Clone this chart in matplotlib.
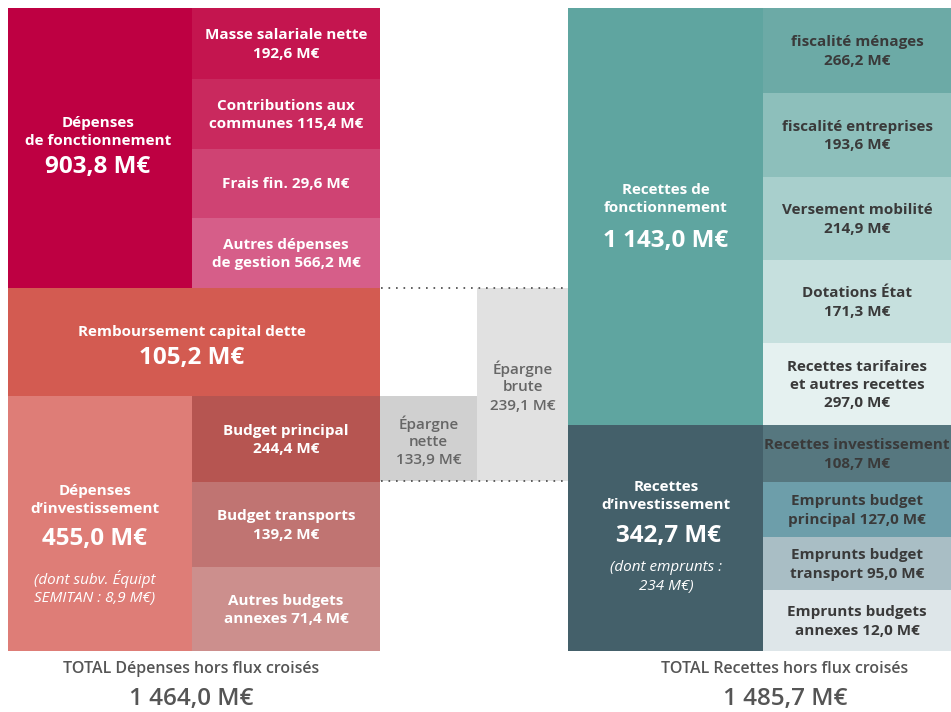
import matplotlib
matplotlib.use("Agg")
import matplotlib.pyplot as plt

plt.rcParams['font.family'] = ['Open Sans', 'DejaVu Sans']

# ---------------- DATA ----------------
dep_fonct_label = "Dépenses\nde fonctionnement"
dep_fonct_value = 903.8
dep_fonct_sub_labels = ["Masse salariale nette\n{}", "Contributions aux\ncommunes {}",
                        "Frais fin. {}", "Autres dépenses\nde gestion {}"]
dep_fonct_sub_values = [192.6, 115.4, 29.6, 566.2]

remb_label = "Remboursement capital dette"
remb_value = 105.2

dep_inv_label = "Dépenses\nd’investissement"
dep_inv_value = 455.0
dep_inv_note = "(dont subv. Équipt\nSEMITAN : 8,9 M€)"
dep_inv_sub_labels = ["Budget principal\n{}", "Budget transports\n{}", "Autres budgets\nannexes {}"]
dep_inv_sub_values = [244.4, 139.2, 71.4]

epargne_labels = ["Épargne\nnette", "Épargne\nbrute"]
epargne_values = [133.9, 239.1]

rec_fonct_label = "Recettes de\nfonctionnement"
rec_fonct_value = 1143.0
rec_fonct_sub_labels = ["fiscalité ménages\n{}", "fiscalité entreprises\n{}", "Versement mobilité\n{}",
                        "Dotations État\n{}", "Recettes tarifaires\net autres recettes\n{}"]
rec_fonct_sub_values = [266.2, 193.6, 214.9, 171.3, 297.0]

rec_inv_label = "Recettes\nd’investissement"
rec_inv_value = 342.7
rec_inv_note = "(dont emprunts :\n234 M€)"
rec_inv_sub_labels = ["Recettes investissement\n{}", "Emprunts budget\nprincipal {}",
                      "Emprunts budget\ntransport {}", "Emprunts budgets\nannexes {}"]
rec_inv_sub_values = [108.7, 127.0, 95.0, 12.0]

total_dep_label = "TOTAL Dépenses hors flux croisés"
total_dep_value = 1464.0
total_rec_label = "TOTAL Recettes hors flux croisés"
total_rec_value = 1485.7


def fmt(v):
    s = f"{v:,.1f}".replace(",", " ").replace(".", ",")
    return s + " M€"


# ---------------- LAYOUT (pixel grid) ----------------
W, H = 951, 712
L0, L1, L2 = 8, 192, 380          # left columns
E1, E2 = 477, 568                 # epargne columns
R1, R2 = 763, 951                 # right columns
dep_fonct_edges = [8, 79, 149, 218, 288]
remb_edges = [288, 396]
dep_inv_edges = [396, 482, 567, 651]
rec_fonct_edges = [8, 93, 177, 260, 343, 425]
rec_inv_edges = [425, 482, 537, 590, 651]

# styles
c_dep_fonct = "#BE0042"
c_dep_fonct_sub = ["#C4154F", "#C9295E", "#CF4373", "#D65E89"]
c_remb = "#D35B51"
c_dep_inv = "#DE7D77"
c_dep_inv_sub = ["#B65551", "#C07472", "#CC8F8D"]
c_ep = ["#D0D0D0", "#E1E1E1"]
c_rec_fonct = "#5FA5A0"
c_rec_fonct_sub = ["#6CAAA6", "#8DBFBB", "#A8CFCC", "#C6E0DE", "#E5F1F0"]
c_rec_inv = "#44606A"
c_rec_inv_sub = ["#56777F", "#6D9EAA", "#A9BEC5", "#DEE6E9"]
dark_txt = "#3A3A3A"
FS_SUB = 11
FS_BIG = 17.5
FS_NOTE = 11
LS_SUB = 1.4
LS_MAIN = 1.3

fig = plt.figure(figsize=(W / 100, H / 100), dpi=100)
ax = fig.add_axes([0, 0, 1, 1])
ax.set_xlim(0, W)
ax.set_ylim(H, 0)
ax.axis("off")


def box(x0, x1, y0, y1, color):
    ax.bar(x0, y1 - y0, bottom=y0, width=x1 - x0, align="edge", color=color,
           linewidth=0)


def sub_column(x0, x1, edges, labels, values, colors, txtcolors):
    for i, (lab, v, c, tc) in enumerate(zip(labels, values, colors, txtcolors)):
        y0, y1 = edges[i], edges[i + 1]
        box(x0, x1, y0, y1, c)
        ax.text((x0 + x1) / 2, (y0 + y1) / 2 + 1, lab.format(fmt(v)), ha="center", va="center",
                color=tc, fontsize=FS_SUB, fontweight="bold", linespacing=LS_SUB)


# Left side
box(L0, L1, dep_fonct_edges[0], dep_fonct_edges[-1], c_dep_fonct)
sub_column(L1, L2, dep_fonct_edges, dep_fonct_sub_labels, dep_fonct_sub_values,
           c_dep_fonct_sub, ["white"] * 4)
ax.text(98, 132, dep_fonct_label, ha="center", va="center", color="white",
        fontsize=FS_SUB, fontweight="bold", linespacing=LS_MAIN)
ax.text(98, 167, fmt(dep_fonct_value), ha="center", va="center", color="white",
        fontsize=FS_BIG, fontweight="bold")

box(L0, L2, remb_edges[0], remb_edges[1], c_remb)
ax.text(192, 332, remb_label, ha="center", va="center", color="white",
        fontsize=FS_SUB, fontweight="bold")
ax.text(192, 358, fmt(remb_value), ha="center", va="center", color="white",
        fontsize=FS_BIG, fontweight="bold")

box(L0, L1, dep_inv_edges[0], dep_inv_edges[-1], c_dep_inv)
sub_column(L1, L2, dep_inv_edges, dep_inv_sub_labels, dep_inv_sub_values,
           c_dep_inv_sub, ["white"] * 3)
ax.text(95, 500, dep_inv_label, ha="center", va="center", color="white",
        fontsize=FS_SUB, fontweight="bold", linespacing=LS_MAIN)
ax.text(95, 539, fmt(dep_inv_value), ha="center", va="center", color="white",
        fontsize=FS_BIG, fontweight="bold")
ax.text(95, 588, dep_inv_note, ha="center", va="center", color="white",
        fontsize=FS_NOTE, fontstyle="italic", linespacing=1.35)

# Epargne
ep_col = "#666666"
box(L2, E1, 396, 481, c_ep[0])
box(E1, E2, 288, 481, c_ep[1])
ax.text((L2 + E1) / 2, 432, epargne_labels[0], ha="center", va="center", color=ep_col,
        fontsize=FS_SUB, fontweight="semibold", linespacing=1.3)
ax.text((L2 + E1) / 2, 460, fmt(epargne_values[0]), ha="center", va="center", color=ep_col,
        fontsize=FS_SUB, fontweight="semibold")
ax.text((E1 + E2) / 2, 377, epargne_labels[1], ha="center", va="center", color=ep_col,
        fontsize=FS_SUB, fontweight="semibold", linespacing=1.3)
ax.text((E1 + E2) / 2, 406, fmt(epargne_values[1]), ha="center", va="center", color=ep_col,
        fontsize=FS_SUB, fontweight="semibold")
ax.plot([381, E2], [288, 288], color="#444444", linestyle=(0, (1, 3.5)), linewidth=1.2)
ax.plot([381, E2], [481, 481], color="#444444", linestyle=(0, (1, 3.5)), linewidth=1.2)

# Right side
box(E2, R1, rec_fonct_edges[0], rec_fonct_edges[-1], c_rec_fonct)
sub_column(R1, R2, rec_fonct_edges, rec_fonct_sub_labels, rec_fonct_sub_values,
           c_rec_fonct_sub, [dark_txt] * 5)
ax.text(666, 199, rec_fonct_label, ha="center", va="center", color="white",
        fontsize=FS_SUB, fontweight="bold", linespacing=LS_MAIN)
ax.text(666, 241, fmt(rec_fonct_value), ha="center", va="center", color="white",
        fontsize=FS_BIG, fontweight="bold")

box(E2, R1, rec_inv_edges[0], rec_inv_edges[-1], c_rec_inv)
sub_column(R1, R2, rec_inv_edges, rec_inv_sub_labels, rec_inv_sub_values,
           c_rec_inv_sub, [dark_txt] * 4)
ax.text(666, 496, rec_inv_label, ha="center", va="center", color="white",
        fontsize=FS_SUB, fontweight="bold", linespacing=LS_MAIN)
ax.text(668, 536, fmt(rec_inv_value), ha="center", va="center", color="white",
        fontsize=FS_BIG, fontweight="bold")
ax.text(666, 577, rec_inv_note, ha="center", va="center", color="white",
        fontsize=FS_NOTE, fontstyle="italic", linespacing=1.3)

# Totals
tot_col = "#555555"
ax.text(191, 669, total_dep_label, ha="center", va="center", color=tot_col, fontsize=11.5,
        fontweight="semibold")
ax.text(191, 699, fmt(total_dep_value), ha="center", va="center", color=tot_col, fontsize=17.5,
        fontweight="semibold")
ax.text(785, 669, total_rec_label, ha="center", va="center", color=tot_col, fontsize=11.5,
        fontweight="semibold")
ax.text(785, 699, fmt(total_rec_value), ha="center", va="center", color=tot_col, fontsize=17.5,
        fontweight="semibold")

fig.savefig("out.png", dpi=100)
